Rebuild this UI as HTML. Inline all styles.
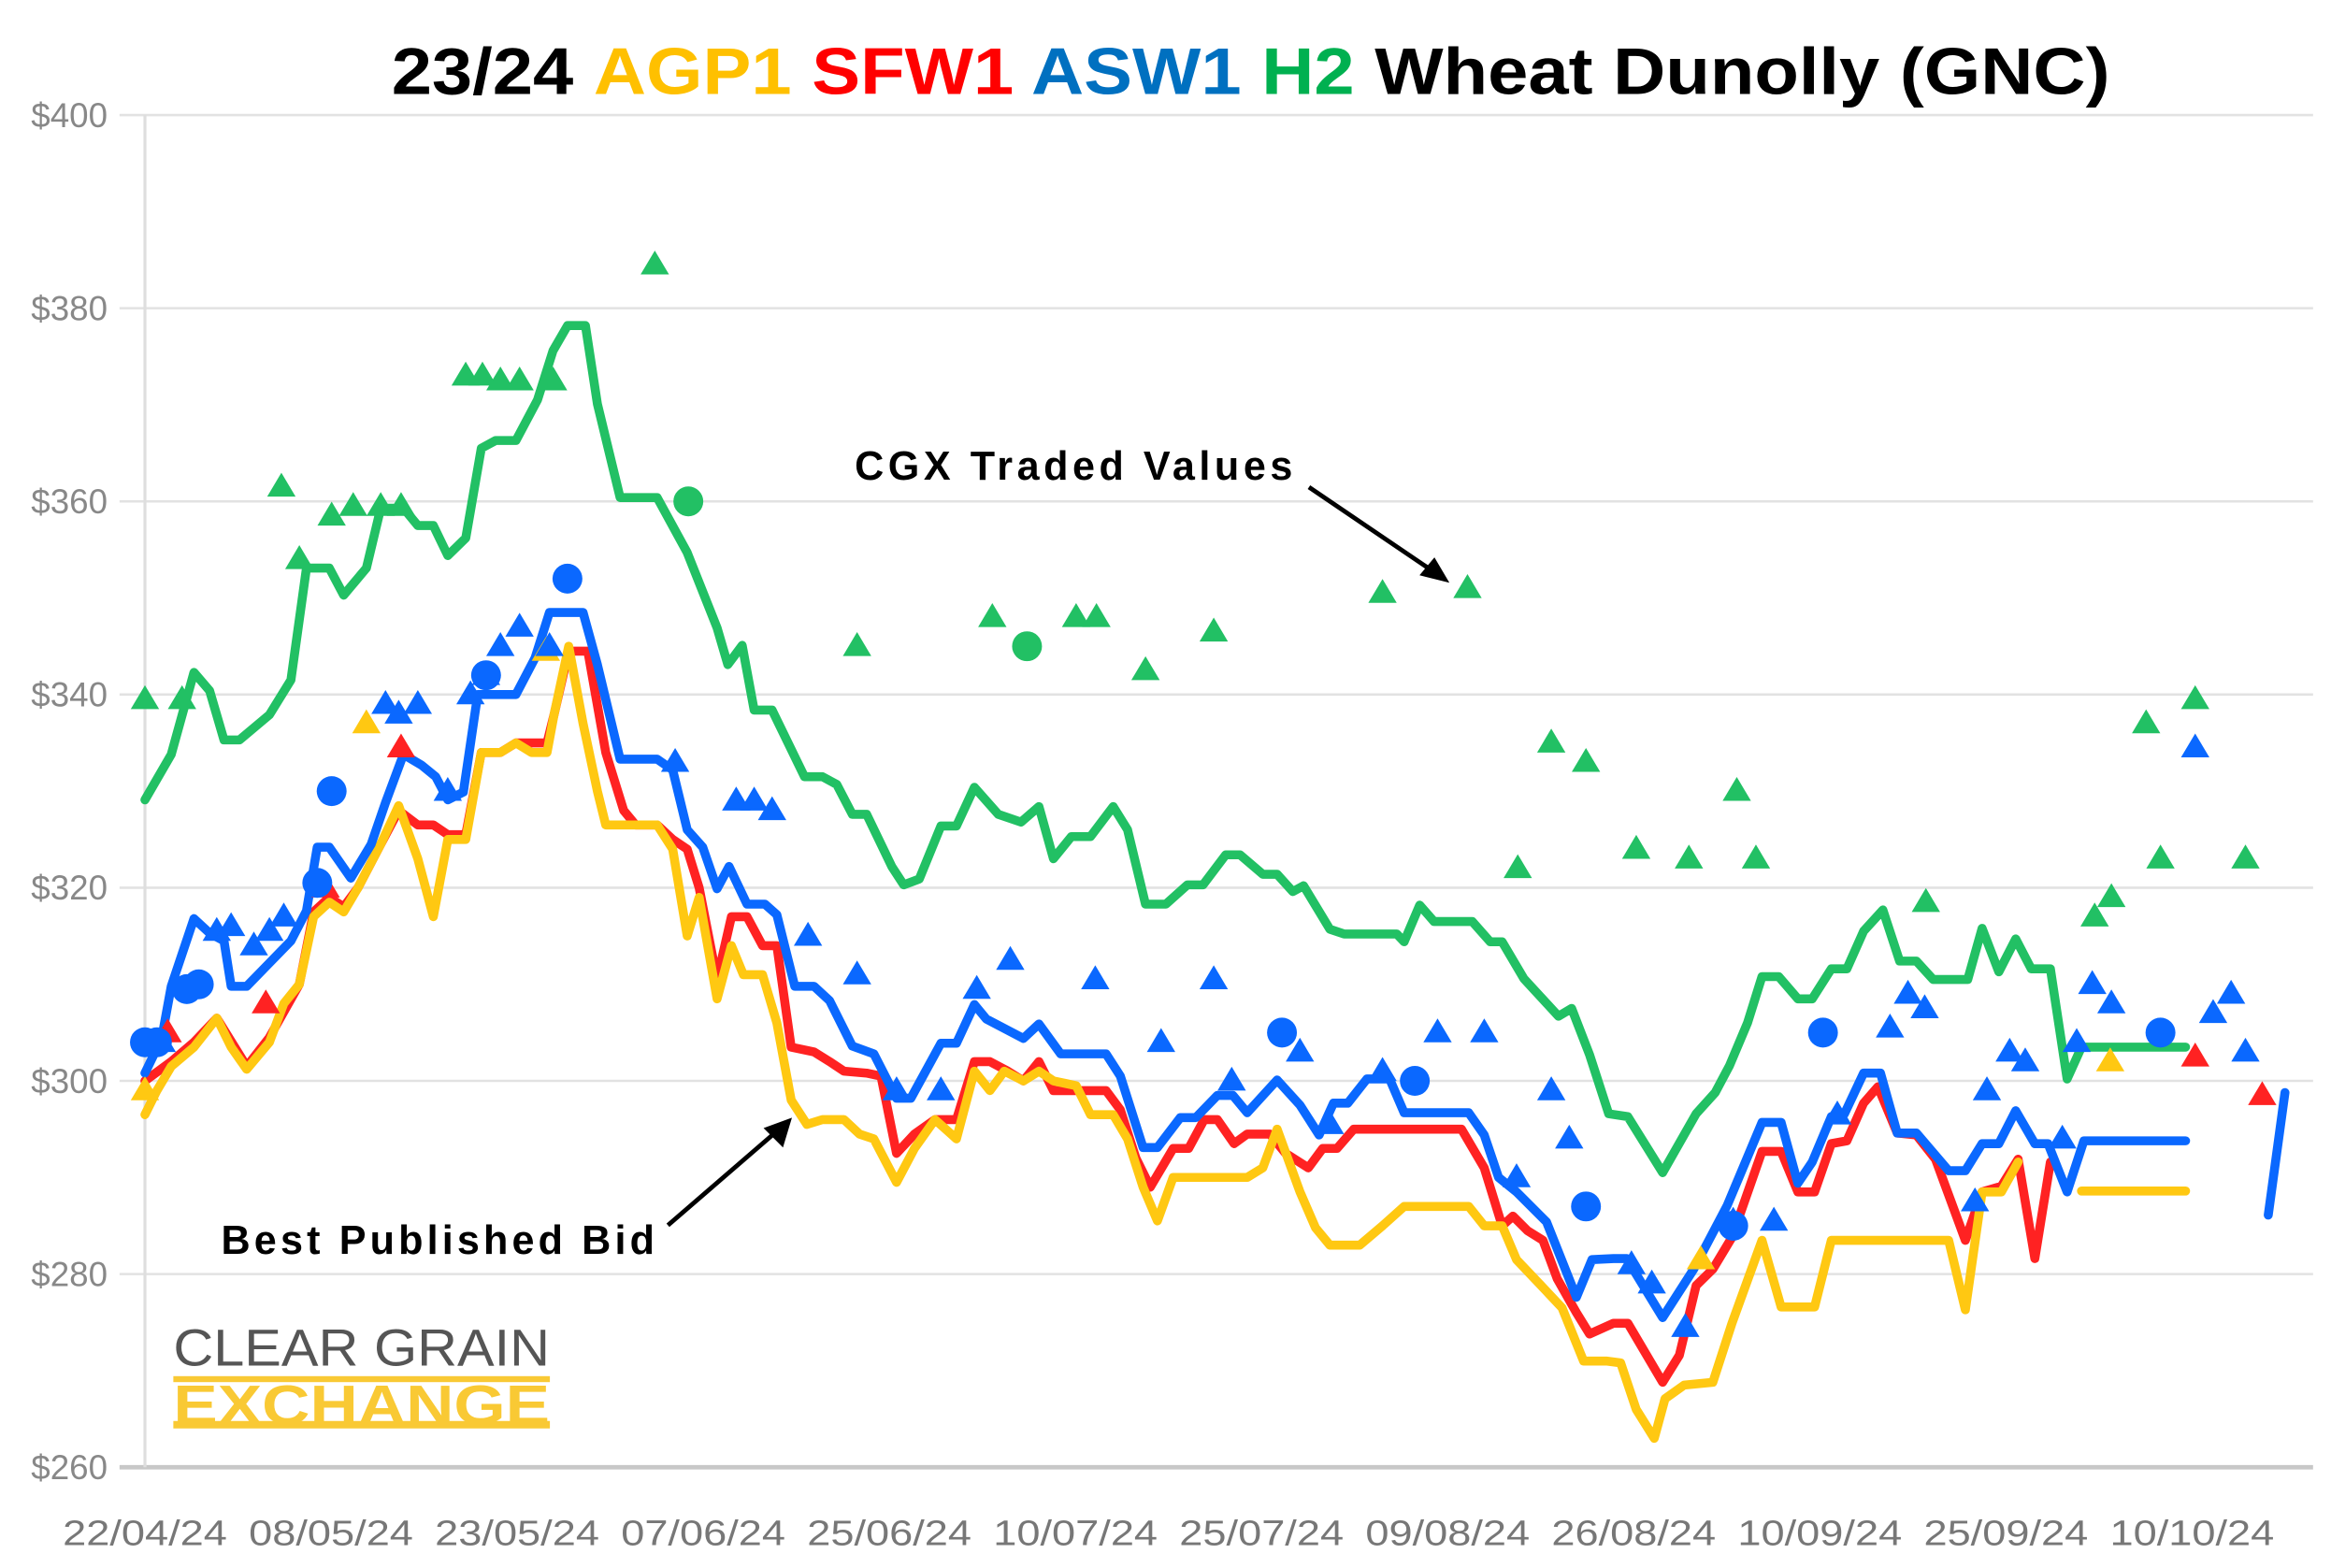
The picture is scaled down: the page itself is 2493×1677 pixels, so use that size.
<!DOCTYPE html>
<html><head><meta charset="utf-8"><style>
html,body{margin:0;padding:0;background:#fff;}
svg{display:block;}
</style></head><body>
<svg id="chart" width="2493" height="1677" viewBox="0 0 1560 1049.4" preserveAspectRatio="none" xmlns="http://www.w3.org/2000/svg" font-family="'Liberation Sans', sans-serif">
<text x="837" y="63" text-anchor="middle" font-size="44" font-weight="bold" fill="#000" textLength="1150" lengthAdjust="spacingAndGlyphs"><tspan>23/24 </tspan><tspan fill="#FFC000">AGP1</tspan><tspan fill="#FF0000"> SFW1</tspan><tspan fill="#0070C0"> ASW1</tspan><tspan fill="#00B050"> H2</tspan><tspan> Wheat Dunolly (GNC)</tspan></text>
<g id="grid"></g>
<g id="axes"></g>
<g id="series"></g>
<g id="markers"></g>
<g>
<text x="572" y="321" font-size="27" font-weight="bold" fill="#000" textLength="293">CGX Traded Values</text>
<line x1="876" y1="326" x2="960" y2="383" stroke="#000" stroke-width="3"/>
<polygon points="970,390 950,385 960,373" fill="#000"/>
</g>
<g>
<text x="148" y="839" font-size="27" font-weight="bold" fill="#000" textLength="290">Best Published Bid</text>
<line x1="447" y1="820" x2="520" y2="757" stroke="#000" stroke-width="3"/>
<polygon points="530,748 524,768 511,755" fill="#000"/>
</g>
<g>
<text x="116" y="914" font-size="35" fill="#555" textLength="252" lengthAdjust="spacingAndGlyphs">CLEAR GRAIN</text>
<rect x="116" y="921" width="252" height="4" fill="#F9C934"/>
<text x="116" y="953" font-size="37" font-weight="bold" fill="#F9C934" textLength="252" lengthAdjust="spacingAndGlyphs">EXCHANGE</text>
<rect x="116" y="951" width="252" height="5" fill="#F9C934"/>
</g>
</svg>
<script>
const yTicks=[260,280,300,320,340,360,380,400];
const xTickLabels=["22/04/24","08/05/24","23/05/24","07/06/24","25/06/24","10/07/24","25/07/24","09/08/24","26/08/24","10/09/24","25/09/24","10/10/24"];
const greenT=[0,2.2,4.1,5.4,6.6,7.9,10.4,12.2,13.5,15.4,16.6,18.5,19.7,21.6,22.8,24.1,25.3,26.8,28.1,29.3,31,32.8,34.1,35.3,36.8,37.8,39.7,42.8,45.3,47.8,48.7,49.9,50.9,52.4,55.1,56.6,57.8,59.1,60.3,62.4,63.4,64.7,66.5,67.8,69.3,71.3,73.2,74.7,75.9,77.4,79,80.9,82.1,83.6,85.3,87.1,88.4,90.3,91.5,93.4,94.6,95.9,96.8,99,100.2,104.6,105.2,106.5,107.7,110.9,112.4,113.4,115.2,118.1,119.2,120.7,122.3,123.9,126.8,129.6,131.2,132.4,133.9,135.1,136.5,138.1,139.3,140.9,142.2,143.6,145.2,146.6,148,149.4,152.3,153.5,154.9,156.3,157.6,159.2,160.6,161.8,170.5];
const greenV=[329.1,333.8,342.3,340.4,335.3,335.3,337.9,341.5,353.1,353.1,350.3,353.1,359.3,359.3,357.5,357.5,354.4,356.2,365.5,366.3,366.3,370.5,375.6,378.2,378.2,370.1,360.4,360.4,354.7,346.9,343.1,345.1,338.4,338.4,331.5,331.5,330.7,327.6,327.6,322.2,320.3,320.9,326.4,326.4,330.4,327.6,326.8,328.4,323,325.3,325.3,328.4,326,318.3,318.3,320.3,320.3,323.4,323.4,321.4,321.4,319.6,320.2,315.7,315.2,315.2,314.4,318.2,316.5,316.5,314.4,314.4,310.6,306.7,307.5,302.7,296.6,296.3,290.5,296.6,298.8,301.6,306.0,310.8,310.8,308.5,308.5,311.6,311.6,315.5,317.7,312.4,312.4,310.5,310.5,315.8,311.3,314.7,311.6,311.6,300.2,303.5,303.5];
const blueT=[0,1.4,2.2,4.1,5.4,6.6,7.2,8.5,10.4,12.2,13.5,14.4,15.4,17.2,18.9,20.1,21.6,23.1,24.3,25.3,26.6,27.8,31,32.6,33.8,36.6,37.8,39.7,42.8,44.1,45.3,46.6,47.8,48.8,50.3,51.8,52.8,54.3,55.9,57.2,59.1,60.9,62.8,64,66.5,67.8,69.3,70.3,73.4,74.7,76.5,80.3,81.5,83.4,84.6,86.5,87.8,89.6,90.9,92.1,94.6,96.5,98.1,99.3,100.5,102.1,104,105.2,110.6,111.9,113.1,114.6,117.1,119.6,120.9,122.7,123.8,126.8,129.4,132.2,135.1,136.7,138.1,139.3,140.9,142,143.6,145,146.4,148,150.7,152.1,153.5,154.9,156.3,157.9,159,160.6,162,170.5,null,177.4,178.8];
const blueV=[300.8,304.4,309.8,316.8,315.3,314.5,309.8,309.8,312.2,314.5,317.6,324.2,324.2,321,324.5,328.8,333.8,332.7,331.5,329.1,329.9,340,340,343.8,348.5,348.5,343.1,333.3,333.3,332.2,326,324.2,319.9,322.2,318.3,318.3,317.2,309.8,309.8,308.3,303.6,302.8,298.2,298.2,303.9,303.9,307.9,306.4,304.4,305.9,302.8,302.8,300.5,293.1,293.1,296.2,296.2,298.5,298.5,296.7,300.1,297.5,294.4,297.7,297.7,300.2,300.2,296.7,296.7,294.4,290,288.5,285.4,277.6,281.5,281.6,281.6,275.5,280.5,287.1,295.7,295.7,289.4,291.6,296.3,296.6,300.8,300.8,294.6,294.6,290.7,290.7,293.5,293.5,296.9,293.5,293.5,288.5,293.8,293.8,null,286.1,298.8];
const redT=[0,2.2,4.1,6,8.5,10.4,12.9,14.1,15.4,16.6,17.8,19.7,21.2,22.8,24.1,25.3,26.8,28.1,29.7,31,33.6,34.2,35.4,37,38.5,40,41,42.8,44.1,45.3,46.3,47.8,49,50.3,51.6,52.8,54,55.9,57.2,58.4,60.3,61.5,62.8,64.3,66,67.8,69.3,70.6,72.1,73.4,74.7,75.9,80.3,81.5,82.8,84,85.9,87.2,88.5,89.6,91,92.1,94,95.3,97.2,98.4,99.6,101,110,111.9,113.4,114.3,115.5,116.8,118,119.6,120.7,122.7,123.9,126.8,128.2,129.6,131,132.6,135.1,136.7,138.1,139.5,140.9,142.2,143.6,144.8,146.4,148,149.6,152.1,153.5,155.1,156.5,157.9,159.2];
const redV=[300,302,304,306.5,301.5,304.5,310,317.5,319,318,320,324.5,328,326.5,326.5,325.5,325.5,334,334,335,335,338,344.5,344.5,334,328,326.5,326.5,325,324,320,310.5,317,317,314,314,303.5,303,302,301,300.8,300.5,292.5,294.5,296,296,302,302,301,300,302,299,299,297,292,289,293,293,296,296,293.5,294.5,294.5,292.5,291,293,293,295,295,291,285,286,284.5,283.5,279.5,276,273.8,274.9,274.9,268.8,271.6,278.8,280.5,283.8,292.7,292.7,288.5,288.5,293.5,293.8,297.7,299.4,294.6,294.4,291.9,283.5,288.5,289.1,291.9,281.6,291.6];
const yellowT=[0,1,2.2,4.1,6,7.2,8.5,10.4,11.6,12.9,14.1,15.4,16.6,17.8,19.7,21.2,22.8,24.1,25.3,26.8,28.1,29.7,31,32.3,33.6,34.2,35.4,36.6,37.8,38.5,42.8,44.1,45.3,46.3,47.8,49,50,51.6,52.8,54,55.3,56.6,58.4,59.7,60.9,62.8,64.3,66,67.8,69.3,70.6,71.8,73.4,74.7,75.9,77.8,79,80.9,82.1,83.4,84.6,85.9,90.3,92.1,93.4,94.6,96.5,97.8,99,101.5,103.4,105.2,110.6,111.9,113.4,114.6,116.5,118.4,120.2,122.1,123.3,124.6,126.1,127,128.6,131,132.6,135.1,136.7,139.5,140.9,150.7,152.1,153.5,155.1,156.5,null,161.8,170.5];
const yellowV=[296.5,299,301.5,303.5,306.5,303.5,301.2,304,308,310,317,318.5,317.5,320,324.5,328.5,323,317,325,325,334,334,335,334,334,338,345,337,330,326.5,326.5,324,315,319,308.5,314,311,311,306,298,295.5,296,296,294.5,294,289.5,293,296,294,301,299,301,300,301,300,299.5,296.5,296.5,294,289,285.5,290,290,290,291,295,288.5,284.8,283,283,285,287,287,285,285,281.5,279,276.5,271,271,270.8,266,263,267.1,268.5,268.8,274.9,283.5,276.6,276.6,283.5,283.5,276.3,288.5,288.5,291.6,null,288.6,288.6];
const h2TriT=[0,3.1,11.4,12.9,15.6,17.4,19.7,21.4,26.8,28.2,29.7,31.3,34.1,42.6,59.5,70.8,77.8,79.5,83.6,89.3,103.4,110.5,114.7,117.5,120.4,124.6,129,133,134.6,148.8,162.9,164.3,167.2,168.4,171.3,175.5];
const h2TriV=[339.5,339.5,361.5,354,358.5,359.5,359.5,359.5,373,373,372.5,372.5,372.5,384.5,345,348,348,348,342.5,346.5,350.5,351,322,335,333,324,323,330,323,318.5,317,319,337,323,339.5,323];
const h2CircT=[45.4,73.7];
const h2CircV=[360,345];
const aswTriT=[1.4,6,7.2,9.1,10.4,11.6,20.1,21.2,22.8,25.3,27.2,28.5,29.7,31.3,33.8,44.3,49.4,50.9,52.4,55.4,59.5,62.8,66.5,69.5,72.3,79.4,84.9,89.3,90.8,96.5,99,103.4,108,111.9,114.6,117.5,119,124.2,125.9,128.7,132.7,136.1,141.4,145.8,147.3,148.7,152.9,153.9,155.8,157.1,160.2,161.4,162.7,164.3,171.3,172.8,174.3,175.5];
const aswTriV=[304,315.5,316,314,315.5,317,339,338,339,330,340,342,345,347,345,333,329,329,328,315,311,299,299,309.5,312.5,310.5,304,310.5,300,303,295.5,301,305,305,290,299,294,281,279,274.5,285.5,285.5,296.5,305.5,309,307.5,287.5,299,303,302,294,304,310,308,334.5,307,309,303];
const aswCircT=[0,1,3.5,4.5,14.4,15.6,35.3,28.5,95,106.1,120.4,132.7,140.2,168.4];
const aswCircV=[304,304,309.5,310,320.5,330,352,342,305,300,287,285,305,305];
const sfwTriT=[1.9,10.1,21.4,15.1,171.3,176.9];
const sfwTriV=[305,308,334.5,320,302.5,298.5];
const agpTriT=[0,18.5,33.5,130,164.2];
const agpTriV=[299,337,344.5,281.5,302];

const NS="http://www.w3.org/2000/svg";
const X0=97, PXT=8.01, Y0=77, YPER=6.464;
function xs(t){return X0+t*PXT;}
function ys(v){return Y0+(400-v)*YPER;}
function mk(tag,attrs,parent){const e=document.createElementNS(NS,tag);for(const k in attrs)e.setAttribute(k,attrs[k]);parent.appendChild(e);return e;}
const grid=document.getElementById('grid'), axes=document.getElementById('axes'), series=document.getElementById('series'), markers=document.getElementById('markers');

yTicks.forEach(v=>{
  const ln=mk('line',{x1:80,x2:1548,y1:ys(v),y2:ys(v),stroke:v===260?'#c8c8c8':'#e2e2e2','stroke-width':v===260?3:1.6},grid);
  
  
  const tx=mk('text',{x:72,y:ys(v)+8,'text-anchor':'end','font-size':23,fill:'#888'},axes);
  tx.textContent='$'+v;
  
  
});
const vax=mk('line',{x1:X0,x2:X0,y1:Y0,y2:ys(260),stroke:'#dedede','stroke-width':2},grid);


const tickStep=(1467-97)/11;
xTickLabels.forEach((lab,i)=>{
  const tx=mk('text',{x:X0+i*tickStep,y:1034,'text-anchor':'middle','font-size':24,fill:'#777',textLength:110,lengthAdjust:'spacingAndGlyphs'},axes);
  tx.textContent=lab;
  
  
});

function pathD(T,V){let d='',pen=false;for(let i=0;i<T.length;i++){if(T[i]===null||V[i]===null){pen=false;continue;}d+=(pen?'L':'M')+xs(T[i]).toFixed(1)+' '+ys(V[i]).toFixed(1)+' ';pen=true;}return d;}
function line(T,V,color,name){
  const p=mk('path',{d:pathD(T,V),fill:'none',stroke:color,'stroke-width':6,'stroke-linejoin':'round','stroke-linecap':'round'},series);
  
  
}
line(redT,redV,'#FF2222','sfw1-line');
line(yellowT,yellowV,'#FFC812','agp1-line');
line(blueT,blueV,'#0A68FF','asw1-line');
line(greenT,greenV,'#22C064','h2-line');

function tris(T,V,color,name){
  T.forEach((t,i)=>{const x=xs(t),y=ys(V[i]);
    const p=mk('polygon',{points:`${x-9.5},${y+6.5} ${x+9.5},${y+6.5} ${x},${y-9.5}`,fill:color},markers);
    
    });
}
function circs(T,V,color,name){
  T.forEach((t,i)=>{
    const c=mk('circle',{cx:xs(t),cy:ys(V[i]),r:10,fill:color},markers);
    
    });
}
tris(agpTriT,agpTriV,'#FFC812','agp1-trade-triangle');
tris(sfwTriT,sfwTriV,'#FF2222','sfw1-trade-triangle');
tris(aswTriT,aswTriV,'#0A68FF','asw1-trade-triangle');
circs(aswCircT,aswCircV,'#0A68FF','asw1-trade-circle');
tris(h2TriT,h2TriV,'#22C064','h2-trade-triangle');
circs(h2CircT,h2CircV,'#22C064','h2-trade-circle');
</script>
</body></html>
